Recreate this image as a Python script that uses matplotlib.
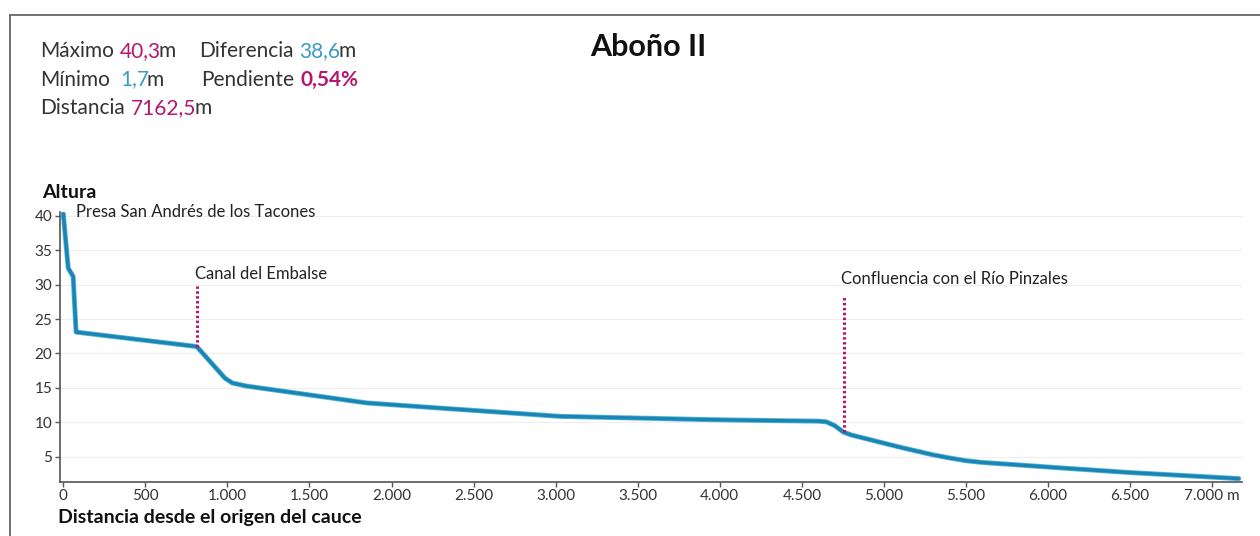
import matplotlib
matplotlib.use("Agg")
import matplotlib.pyplot as plt
from matplotlib.lines import Line2D

plt.rcParams['font.family'] = ['Lato', 'DejaVu Sans']

# ---- data ----
distance_m = [0, 30, 60, 78, 813, 985, 1030, 1117, 1848, 2356, 3026, 3878, 4122,
              4600, 4650, 4700, 4754, 4800, 4900, 5000, 5100, 5200, 5300, 5400, 5500,
              5600, 5750, 6050, 6485, 7162]
altura_m = [40.3, 32.4, 31.2, 23.1, 21.0, 16.4, 15.7, 15.25, 12.8, 11.95, 10.85, 10.4, 10.3,
            10.15, 10.05, 9.5, 8.55, 8.15, 7.55, 6.95, 6.35, 5.8, 5.25, 4.8, 4.4,
            4.15, 3.9, 3.4, 2.7, 1.8]

marker_names = ["Presa San Andrés de los Tacones", "Canal del Embalse",
                "Confluencia con el Río Pinzales"]
marker_x = [77, 802, 4737]
marker_label_y = [40.5, 31.5, 30.8]
vline_x = [813, 4754]
vline_bottom = [21.0, 8.6]
vline_top = [29.8, 28.3]

xtick_vals = [0, 500, 1000, 1500, 2000, 2500, 3000, 3500, 4000, 4500, 5000, 5500, 6000, 6500, 7000]
xtick_labels = ["0", "500", "1.000", "1.500", "2.000", "2.500", "3.000", "3.500", "4.000",
                "4.500", "5.000", "5.500", "6.000", "6.500", "7.000 m"]
ytick_vals = [5, 10, 15, 20, 25, 30, 35, 40]
ytick_labels = ["5", "10", "15", "20", "25", "30", "35", "40"]

title = "Aboño II"
stat_maximo = "40,3"
stat_minimo = "1,7"
stat_distancia = "7162,5"
stat_diferencia = "38,6"
stat_pendiente = "0,54%"

# ---- style ----
MAG = "#b5176e"
BLUE = "#3b9cc2"
DARK = "#333333"
LINE = "#1a84b2"

W, H = 1260, 536
fig = plt.figure(figsize=(W / 100, H / 100), dpi=100)
fig.patch.set_facecolor("white")

def fx(px):
    return px / W

def fy(py):
    return 1 - py / H

ax = fig.add_axes([fx(60), fy(481.7), (1241.7 - 60) / W, (481.7 - 211.7) / H])
ax.set_xlim(-20, 7180)
ax.set_ylim(1.35, 40.6)

for s in ["top", "right"]:
    ax.spines[s].set_visible(False)
for s in ["left", "bottom"]:
    ax.spines[s].set_color("#555555")
    ax.spines[s].set_linewidth(1.2)

ax.set_xticks(xtick_vals)
ax.set_xticklabels(xtick_labels)
ax.set_yticks(ytick_vals)
ax.set_yticklabels(ytick_labels)
ax.tick_params(axis="both", direction="out", length=3.5, width=1, color="#555555",
               labelsize=11, labelcolor=DARK, pad=2)
ax.yaxis.grid(True, color="#eeeeee", linewidth=0.8)
ax.set_axisbelow(True)

ax.plot(distance_m, altura_m, color="#55b4da", lw=3.6, solid_joinstyle="round",
        solid_capstyle="round", zorder=3)
ax.plot(distance_m, altura_m, color=LINE, lw=2.4, solid_joinstyle="round",
        solid_capstyle="round", zorder=4)

for xv, yb, yt in zip(vline_x, vline_bottom, vline_top):
    ax.plot([xv, xv], [yb, yt], color=MAG, lw=2.2, linestyle=(0, (0.8, 0.8)), zorder=5)

for name, xv, yv in zip(marker_names, marker_x, marker_label_y):
    ax.text(xv, yv, name, fontsize=12, color="#222222", ha="left", va="center")

# axis titles
fig.text(fx(42), fy(198.3), "Altura", fontsize=14, fontweight="bold", color="#111111",
         ha="left", va="baseline")
fig.text(fx(58), fy(522.7), "Distancia desde el origen del cauce", fontsize=14,
         fontweight="bold", color="#111111", ha="left", va="baseline")

# title
fig.text(fx(648.5), fy(56), title, fontsize=22, fontweight="bold", color="#111111",
         ha="center", va="baseline")

# stats block
FS = 15

def chain(prev, text, color, gap_px=0, bold=False):
    return plt.annotate(
        text, xy=(1, 0), xycoords=prev, xytext=(gap_px * 0.72, 0),
        textcoords="offset points", fontsize=FS, color=color,
        fontweight="bold" if bold else "normal", ha="left", va="bottom",
        annotation_clip=False)

def start(xpx, ypx, text, color):
    return fig.text(fx(xpx), fy(ypx), text, fontsize=FS, color=color, ha="left",
                    va="baseline")

t = start(40, 57, "Máximo", DARK)
t = chain(t, stat_maximo, MAG, 6)
t = chain(t, "m", DARK, -2)
t = start(199, 57, "Diferencia", DARK)
t = chain(t, stat_diferencia, BLUE, 6)
t = chain(t, "m", DARK, -2)

t = start(40, 85.5, "Mínimo", DARK)
t = chain(t, stat_minimo, BLUE, 10)
t = chain(t, "m", DARK, -2)
t = start(201.5, 85.5, "Pendiente", DARK)
t = chain(t, stat_pendiente, MAG, 6, bold=True)

t = start(40, 114, "Distancia", DARK)
t = chain(t, stat_distancia, MAG, 6)
t = chain(t, "m", DARK, -2)

# partial frame (top and left)
fig.add_artist(Line2D([fx(10), 1], [fy(15), fy(15)], color="#666666", lw=1.3))
fig.add_artist(Line2D([fx(10), fx(10)], [0, fy(15)], color="#666666", lw=1.3))

fig.savefig("out.png", dpi=100, facecolor="white")
